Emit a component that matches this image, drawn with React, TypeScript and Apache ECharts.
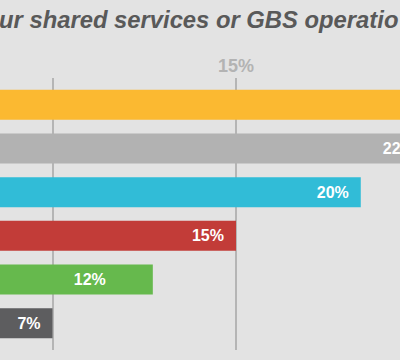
import React, { useEffect, useRef } from "react";
import * as echarts from "echarts";

const categories = ["Option A", "Option B", "Option C", "Option D", "Option E", "Option F"];
const values = [28, 22.8, 20.1, 15, 11.6, 7.5];
const valueLabels = ["28%", "22%", "20%", "15%", "12%", "7%"];
const colors = ["#fbb931", "#b2b2b2", "#31bcd7", "#c23c38", "#66b94d", "#5d5d5f"];
const axisMin = 0;
const axisMax = 30;
const axisInterval = 7.5;
const shownTick = 15;
const titleText = "ur shared services or GBS operatio";

const SHIFT = 131;
const TOTAL_W = 734;

export default function App() {
  const ref = useRef<HTMLDivElement>(null);
  useEffect(() => {
    document.body.style.margin = "0";
    document.body.style.overflow = "hidden";
    document.documentElement.style.overflow = "hidden";
    const chart = echarts.init(ref.current!, null, { renderer: "svg" });
    chart.setOption({
      animation: false,
      backgroundColor: "#e3e3e3",
      grid: [
        { left: 0, right: 0, top: 78, bottom: 10, outerBoundsMode: "none", containLabel: false },
        { left: 0, right: 0, top: 83, height: 262, outerBoundsMode: "none", containLabel: false },
      ],
      xAxis: [
        {
          gridIndex: 0,
          type: "value",
          position: "top",
          min: axisMin,
          max: axisMax,
          interval: axisInterval,
          axisLine: { show: false },
          axisTick: { show: false },
          splitLine: { show: true, lineStyle: { color: "#b5b5b5", width: 2 } },
          axisLabel: {
            margin: 3,
            color: "#b3b3b3",
            fontSize: 18,
            fontWeight: "bold",
            fontFamily: "Liberation Sans, Arial, sans-serif",
            formatter: (v: number) => (v === shownTick ? v + "%" : ""),
          },
        },
        {
          gridIndex: 1,
          type: "value",
          min: axisMin,
          max: axisMax,
          show: false,
          splitLine: { show: false },
        },
      ],
      yAxis: [
        { gridIndex: 0, type: "value", min: 0, max: 1, show: false, splitLine: { show: false } },
        {
          gridIndex: 1,
          type: "category",
          data: categories,
          inverse: true,
          show: false,
        },
      ],
      graphic: [
        {
          type: "text",
          x: SHIFT - 1,
          y: 19.5,
          style: {
            text: titleText,
            fill: "#595959",
            font: "italic bold 23.8px 'Liberation Sans', Arial, sans-serif",
            verticalAlign: "middle",
            align: "left",
          },
        },
      ],
      series: [
        {
          type: "bar",
          xAxisIndex: 1,
          yAxisIndex: 1,
          barWidth: 30,
          data: values.map((v, i) => ({
            value: v,
            itemStyle: { color: colors[i] },
            label: i === 0 ? { show: false } : i === 4 ? { distance: 47 } : {},
          })),
          label: {
            show: true,
            position: "insideRight",
            distance: 12,
            color: "#ffffff",
            fontSize: 16,
            fontWeight: "bold",
            fontFamily: "Liberation Sans, Arial, sans-serif",
            formatter: (p: any) => valueLabels[p.dataIndex],
          },
        },
      ],
    });
    return () => chart.dispose();
  }, []);
  return (
    <div style={{ width: 400, height: 360, overflow: "hidden", position: "relative" }}>
      <div ref={ref} style={{ width: TOTAL_W, height: 360, position: "absolute", left: -SHIFT, top: 0 }} />
    </div>
  );
}
